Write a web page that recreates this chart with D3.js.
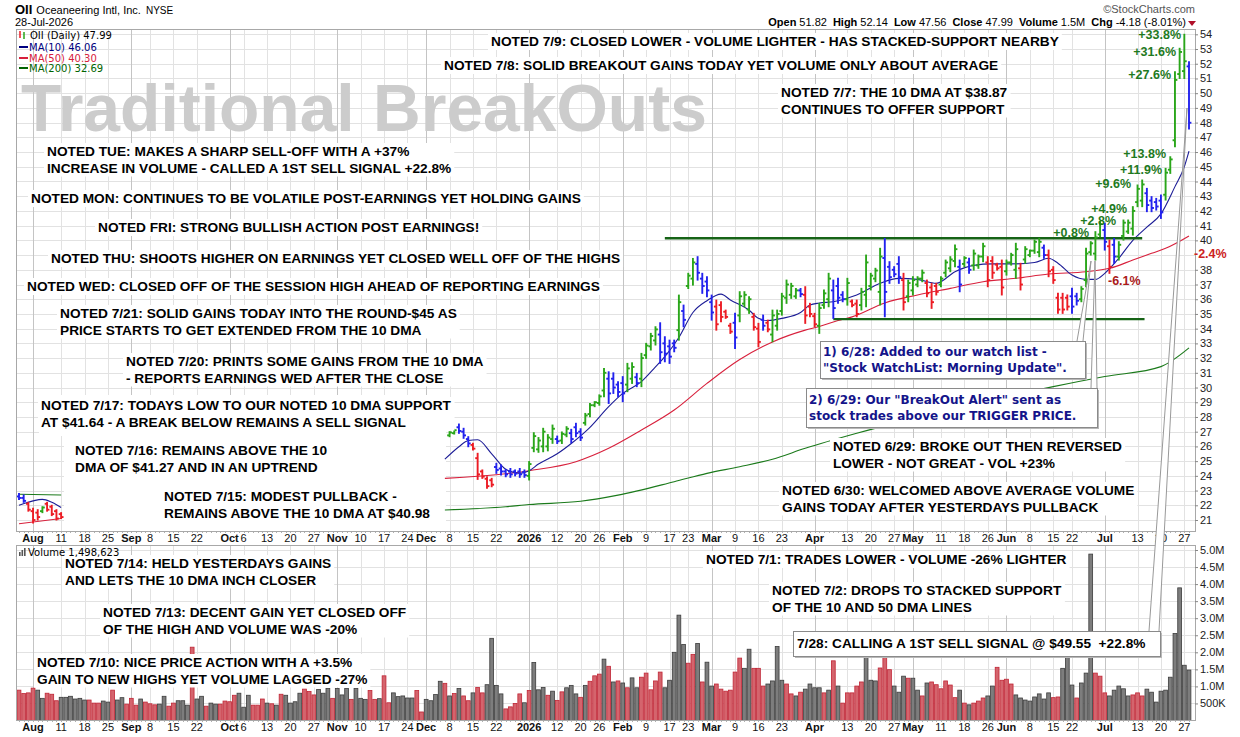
<!DOCTYPE html>
<html>
<head>
<meta charset="utf-8">
<script src="https://cdn.jsdelivr.net/npm/d3@7"></script>
<style>
  body { margin: 0; background: #fff; }
  svg { display: block; font-family: "Liberation Sans", Arial, sans-serif; }
</style>
</head>
<body>
<svg id="chart" width="1240" height="737"></svg>
<script>
// ---- calendar ----
var firstDay = "2025-07-29", lastDay = "2026-07-28";
var holidays = ["2025-09-01", "2025-11-27", "2025-12-25", "2026-01-01", "2026-01-19",
                "2026-02-16", "2026-04-03", "2026-05-25", "2026-06-19", "2026-07-03"];

var tickDates = ["2025-08-01", "2025-08-11", "2025-08-18", "2025-08-25", "2025-09-02", "2025-09-08", "2025-09-15", "2025-09-22",
  "2025-10-01", "2025-10-06", "2025-10-13", "2025-10-20", "2025-10-27", "2025-11-03", "2025-11-10", "2025-11-17", "2025-11-24",
  "2025-12-01", "2025-12-08", "2025-12-15", "2025-12-22", "2026-01-02", "2026-01-12", "2026-01-20", "2026-01-26",
  "2026-02-02", "2026-02-09", "2026-02-17", "2026-02-23", "2026-03-02", "2026-03-09", "2026-03-16", "2026-03-23",
  "2026-04-01", "2026-04-13", "2026-04-20", "2026-04-27", "2026-05-01", "2026-05-11", "2026-05-18", "2026-05-26",
  "2026-06-01", "2026-06-08", "2026-06-15", "2026-06-22", "2026-07-01", "2026-07-13", "2026-07-20", "2026-07-27"];
var tickLabels = ["Aug", "11", "18", "25", "Sep", "8", "15", "22", "Oct", "6", "13", "20", "27", "Nov", "10", "17", "24",
  "Dec", "8", "15", "22", "2026", "12", "20", "26", "Feb", "9", "17", "23", "Mar", "9", "16", "23",
  "Apr", "13", "20", "27", "May", "11", "18", "26", "Jun", "8", "15", "22", "Jul", "13", "20", "27"];
// price labels on the right axis (39 sits under the -2.4% note)
var priceTicks = [21,22,23,24,25,26,27,28,29,30,31,32,33,34,35,36,37,38,40,41,42,43,44,45,46,47,48,49,50,51,52,53,54];
var volumeTicks = [0.5,1,1.5,2,2.5,3,3.5,4,4.5,5];

// ---- price bars (open, high, low, close); tone G=up, R=down, B=blue ----
var leftStart = "2025-07-29";
var leftBars = [[22.6,22.8,22.4,22.5],[22.5,22.7,22.2,22.3],[22.1,22.2,21.6,21.7],[21.6,21.8,20.8,21.0],[21.5,21.7,21.0,21.2],
  [21.6,21.9,21.5,21.85],[22.1,22.2,21.6,21.7],[21.9,22.0,21.3,21.4],[21.6,21.7,21.0,21.1],[21.4,21.5,21.1,21.2]];
var leftTone = "BBRRRGRRRR";

var mainStart = "2025-12-08";
var mainBars = [
  [26.75,27.0,26.66,26.95],[26.9,27.16,26.84,27.1],[27.3,27.52,26.89,27.05],[27.0,27.23,26.55,26.75],[26.5,26.66,25.98,26.2],
  [26.1,26.21,25.76,25.85],[25.2,25.53,23.76,24.1],[24.3,24.4,23.83,23.95],[23.8,23.94,23.15,23.3],[23.7,23.83,23.26,23.4],
  [24.6,24.85,24.17,24.4],[24.5,24.74,24.06,24.3],[24.3,24.44,23.94,24.1],[24.3,24.5,23.9,24.1],[24.3,24.4,24.0,24.15],
  [24.3,24.5,23.9,24.1],[24.25,24.4,23.9,24.05],[24.0,24.97,23.72,24.8],[25.9,26.93,25.64,26.7],[25.8,26.6,25.6,26.4],
  [26.0,27.23,25.64,27.0],[26.0,26.8,25.7,26.6],[26.5,27.45,26.21,27.2],[26.5,26.7,26.2,26.35],[26.4,26.98,26.2,26.85],
  [26.8,27.34,26.66,27.2],[26.9,27.16,26.25,26.5],[27.3,27.57,26.66,26.9],[27.0,27.2,26.4,26.6],[27.6,28.24,27.45,28.1],
  [28.2,28.92,28.02,28.8],[28.8,29.04,28.7,29.0],[28.95,29.5,28.8,29.4],[29.8,31.3,29.38,31.0],[30.6,31.07,28.92,29.6],
  [30.6,31.0,29.6,30.0],[30.2,30.4,29.38,29.7],[30.3,30.74,29.04,29.6],[30.2,31.64,29.72,31.3],[30.6,31.68,30.28,31.4],
  [30.7,30.96,30.06,30.3],[30.6,32.32,30.06,32.0],[32.2,33.0,31.98,32.85],[32.8,33.68,32.55,33.5],[33.2,34.13,32.89,33.95],
  [33.6,34.4,31.64,32.4],[33.0,33.45,31.75,32.3],[32.8,33.22,31.64,32.1],[33.0,33.22,32.43,32.7],[33.9,36.28,33.22,35.8],
  [35.2,35.6,34.13,34.6],[36.9,37.76,36.73,37.6],[37.4,38.77,36.96,38.5],[38.4,38.89,37.3,37.8],[37.4,37.76,36.4,36.9],
  [37.2,37.53,36.17,36.6],[35.8,36.28,34.58,35.1],[35.5,35.94,33.9,34.3],[35.6,35.83,34.47,34.8],[35.15,35.26,34.7,34.8],
  [34.2,34.36,33.68,33.8],[34.4,35.04,32.66,33.4],[34.9,36.51,34.47,36.2],[35.7,36.51,35.49,36.3],[35.3,36.17,35.04,36.0],
  [34.8,35.04,33.9,34.1],[34.0,34.36,32.77,33.1],[34.6,34.92,33.9,34.2],[34.4,34.58,33.79,33.95],[33.6,35.26,33.11,34.9],
  [34.2,35.26,33.9,35.0],[35.2,36.4,34.92,36.2],[36.1,37.3,35.72,37.0],[36.3,37.08,36.06,36.9],[36.2,36.73,36.06,36.6],
  [36.6,36.73,36.17,36.35],[36.3,36.85,34.36,34.9],[35.5,35.72,34.81,35.0],[34.85,35.04,34.13,34.3],[34.2,35.72,33.68,35.4],
  [35.6,36.62,35.38,36.4],[36.0,37.76,35.49,37.4],[36.6,37.3,34.7,35.4],[36.9,37.42,35.72,36.1],[36.3,36.51,35.83,36.0],
  [36.0,37.42,35.6,37.1],[35.85,35.94,35.49,35.6],[35.7,35.94,34.81,35.0],[35.6,36.74,35.27,36.5],[36.3,39.0,35.49,38.5],
  [36.9,37.76,36.63,37.6],[37.4,38.1,37.19,37.95],[36.5,39.46,35.61,38.9],[38.8,40.13,34.81,36.5],[38.2,38.55,37.08,37.5],
  [38.0,38.21,37.53,37.7],[38.4,38.89,37.08,37.5],[37.3,37.76,35.27,35.8],[36.2,37.3,35.83,37.1],[36.6,37.53,36.29,37.3],
  [37.0,37.53,36.85,37.4],[37.4,37.98,37.19,37.8],[37.1,37.3,36.17,36.4],[36.8,37.08,35.38,35.8],[36.9,37.08,36.29,36.5],
  [37.0,37.53,36.85,37.4],[37.8,38.66,37.53,38.5],[38.1,38.89,37.87,38.7],[38.6,39.68,38.21,39.4],[38.2,38.66,36.51,37.0],
  [38.4,38.89,38.21,38.8],[38.5,38.78,37.76,38.0],[38.3,39.34,37.98,39.1],[38.3,39.0,38.1,38.9],[38.9,39.8,38.55,39.6],
  [38.5,38.89,36.85,37.3],[38.6,38.89,37.42,37.8],[38.35,38.44,37.98,38.1],[38.2,38.66,36.29,36.8],[37.9,38.66,37.64,38.5],
  [38.5,39.12,38.32,39.0],[38.0,39.8,37.42,39.4],[38.1,38.44,36.63,37.0],[38.7,39.57,38.44,39.4],[39.0,39.34,38.89,39.3],
  [39.3,40.02,39.12,39.9],[39.2,40.13,38.89,39.9],[39.5,39.68,38.78,39.0],[39.0,39.34,37.53,37.9],[38.0,38.21,37.08,37.3],
  [36.1,36.4,35.04,35.3],[36.1,36.4,35.04,35.3],[36.1,36.29,35.27,35.5],[36.2,36.74,35.04,35.5],[36.2,36.4,35.61,35.9],
  [36.0,36.85,35.83,36.7],[37.3,39.46,36.85,39.1],[39.2,39.91,39.0,39.8],[39.1,40.59,38.66,40.2],[40.4,41.27,40.25,41.1],
  [40.7,41.15,39.34,39.9],[39.6,40.02,37.76,38.2],[39.7,40.13,38.44,38.9],[38.9,39.91,38.66,39.7],[40.3,41.38,40.02,41.2],
  [40.6,41.38,40.47,41.2],[40.8,42.29,40.36,42.0],[42.6,43.76,42.29,43.5],[42.7,44.1,42.29,43.8],[43.2,43.53,41.95,42.4],
  [42.7,42.97,41.95,42.2],[42.6,42.85,42.06,42.3],[42.7,43.08,41.49,41.9],[43.1,44.89,42.74,44.6],[44.8,45.68,44.55,45.5],
  [46.8,51.45,46.36,50.9],[51.3,53.05,51.0,52.8],[51.5,54.0,51.0,52.17],[51.82,52.14,47.56,47.99]];
var mainTone = "GGBBBRRRRR" + "BBBBBBBGGG" + "GGGBGGBBBG" + "GGGGBBBBGG" + "BGGGGBBBBG" + "BGGBBBBRRR" +
  "RBGGGRRBRG" + "GGGGGBRRRG" + "GGBBBGRRGG" + "GGGBBBBRGG" + "GGRRRGGGGB" + "GBGGGRRRRG" + "GGRGGGGBRR" +
  "RRRBBGGGGG" + "BRBGGGGGGB" + "BBBGGGGGB";

// ---- moving averages: [trading day no., value] ----
var ma10Left = [[0,22.0],[3,22.3],[5,22.4],[7,22.2],[9,21.85]];
var ma10 = [[91,25.13],[94,25.98],[96,26.4],[98,26.45],[101,25.5],[104,24.45],[107,24.17],[109,24.35],[111,24.8],[115,25.5],
  [118,26.2],[122,27.3],[126,28.7],[129,29.6],[133,30.4],[136,31.4],[138,32.1],[141,33.4],[144,35.1],[147,35.9],[150,36.35],
  [152,35.95],[156,35.25],[158,34.7],[160,34.55],[163,34.7],[167,35.1],[169,35.6],[171,35.74],[174,35.83],[179,36.28],
  [184,37.08],[188,37.42],[192,37.35],[196,37.08],[200,37.87],[204,38.3],[208,38.4],[212,38.4],[217,38.5],[220,38.78],
  [222,38.45],[225,37.64],[228,37.35],[230,37.35],[232,37.76],[235,38.78],[238,40.0],[241,40.9],[244,41.8],[247,43.65],
  [249,45.0],[250,46.06]];
var ma50Left = [[0,20.75],[9,21.1]];
var ma50 = [[91,23.83],[109,24.35],[119,24.96],[126,25.87],[133,27.11],[140,28.47],[147,30.28],[154,31.9],[161,33.1],
  [168,33.9],[171,34.15],[175,34.55],[178,34.8],[185,35.75],[192,36.29],[199,36.74],[206,37.19],[213,37.42],[220,37.71],
  [228,37.87],[233,38.1],[238,38.66],[242,39.12],[245,39.46],[250,40.3]];
var ma200Left = [[0,22.75],[9,22.7]];
var ma200 = [[91,21.68],[104,21.9],[109,22.05],[120,22.27],[128,22.69],[140,23.6],[147,24.17],[154,24.62],[161,25.13],
  [168,25.87],[179,26.89],[199,28.5],[221,30.06],[232,30.75],[244,31.42],[250,32.69]];

// trend lines: level, from day, to day
var channelLines = [[40.14, 138, 240], [34.65, 174, 240.5]];

// ---- volume (millions), one per trading day; tone r=down g=up ----
var volume = [
  .89,.79,.81,.95,.89,.65,.80,.77,.58,.68, .68,.71,.63,.65,.60,.60,.51,.51,.57,.54,
  .89,.60,.67,.48,.65,.45,.63,.54,.49,.46, .48,.71,.42,.51,.58,.58,.45,2.15,.63,.71,
  .42,.51,.48,.48,.57,.55,.74,.80,.39,.74, .45,.45,.63,.51,.49,.45,.77,.74,.51,.55,
  .80,.92,.85,.75,.91,.80,.94,.65,.94,.75, .94,.62,.94,.65,.62,.88,.62,.64,1.31,.52,
  .81,.70,.72,.66,.66,.88,.25,.62,.58,.76, 1.15,1.09,.72,.79,.94,.72,.58,.81,.97,.81,
  1.05,2.41,1.03,.78,.34,.40,.50,.78,.52,.88, 1.70,.90,.97,.74,.86,.59,.84,.96,1.03,.78,
  .68,1.03,1.15,1.31,1.36,1.80,1.59,1.13,1.16,1.10, .96,1.25,.96,1.27,1.39,.90,1.16,1.42,.96,1.18,
  2.00,3.09,2.23,1.68,1.94,2.26,1.13,1.71,1.01,1.07, .92,.86,.89,1.42,1.83,1.53,2.09,1.53,1.53,1.01,
  1.07,1.16,2.17,1.18,1.07,.78,.72,.83,.92,1.07, .96,.96,.81,.89,1.75,1.01,.51,.81,.81,1.01,
  1.13,2.55,1.18,1.16,1.54,1.87,1.49,1.01,.83,1.30, 1.24,1.24,.89,.72,1.10,1.13,1.05,.93,1.16,1.04,
  .67,.89,.51,.46,.51,.57,.66,.72,1.01,1.56, 1.18,1.21,1.07,.75,.66,.60,.57,.69,.78,.63,
  .81,.67,.69,1.53,1.95,1.04,.66,1.10,1.39,4.88, 1.39,1.30,.81,.72,.89,1.01,.93,.72,.75,.81,
  .72,.92,.83,.54,.86,.89,1.27,2.55,3.89,1.62, 1.48];
var volumeTone = "rrrrggrrrg" + "gggggrrrgg" + "rggrrrgrrr" + "ggrrgggrgg" + "rggrrrrggg" + "rrrgrgrggg" +
  "grrrgggrgg" + "grgggrrgrr" + "gggggrrggg" + "grgrgrrgrr" + "ggggrrrrgr" + "gggrgrrggg" +
  "rgrrrgrgrg" + "rggrrrrrgg" + "gggrrgrggr" + "rrrrrggrrr" + "ggggrrgrgg" +
  "ggrgrgrrrr" + "rgggrrrggg" + "rggrgrrrrr" + "rgrgrrrggr" + "rrrggggggg" +
  "grrgggrggg" + "rrrgggggrr" + "r";

// ---- annotations (layout) ----
var notes = [
  {x: 491, y: 46, t: ["NOTED 7/9: CLOSED LOWER - VOLUME LIGHTER - HAS STACKED-SUPPORT NEARBY"]},
  {x: 444, y: 70, t: ["NOTED 7/8: SOLID BREAKOUT GAINS TODAY YET VOLUME ONLY ABOUT AVERAGE"]},
  {x: 781, y: 97, t: ["NOTED 7/7: THE 10 DMA AT $38.87", "CONTINUES TO OFFER SUPPORT"]},
  {x: 47, y: 156, t: ["NOTED TUE: MAKES A SHARP SELL-OFF WITH A +37%", "INCREASE IN VOLUME - CALLED A 1ST SELL SIGNAL +22.8%"]},
  {x: 31, y: 203, t: ["NOTED MON: CONTINUES TO BE VOLATILE POST-EARNINGS YET HOLDING GAINS"]},
  {x: 98, y: 232, t: ["NOTED FRI: STRONG BULLISH ACTION POST EARNINGS!"]},
  {x: 51, y: 263, t: ["NOTED THU: SHOOTS HIGHER ON EARNINGS YET CLOSED WELL OFF OF THE HIGHS"]},
  {x: 27, y: 291, t: ["NOTED WED: CLOSED OFF OF THE SESSION HIGH AHEAD OF REPORTING EARNINGS"]},
  {x: 60, y: 318, t: ["NOTED 7/21: SOLID GAINS TODAY INTO THE ROUND-$45 AS", "PRICE STARTS TO GET EXTENDED FROM THE 10 DMA"]},
  {x: 126, y: 366, t: ["NOTED 7/20: PRINTS SOME GAINS FROM THE 10 DMA", "- REPORTS EARNINGS WED AFTER THE CLOSE"]},
  {x: 41, y: 410, t: ["NOTED 7/17: TODAYS LOW TO OUR NOTED 10 DMA SUPPORT", "AT $41.64 - A BREAK BELOW REMAINS A SELL SIGNAL"]},
  {x: 75, y: 455, t: ["NOTED 7/16: REMAINS ABOVE THE 10", "DMA OF $41.27 AND IN AN UPTREND"]},
  {x: 164, y: 501, t: ["NOTED 7/15: MODEST PULLBACK -", "REMAINS ABOVE THE 10 DMA AT $40.98"]},
  {x: 833, y: 451, t: ["NOTED 6/29: BROKE OUT THEN REVERSED", "LOWER - NOT GREAT - VOL +23%"]},
  {x: 782, y: 495, t: ["NOTED 6/30: WELCOMED ABOVE AVERAGE VOLUME", "GAINS TODAY AFTER YESTERDAYS PULLBACK"]},
  {x: 706, y: 564, t: ["NOTED 7/1: TRADES LOWER - VOLUME -26% LIGHTER"]},
  {x: 772, y: 595, t: ["NOTED 7/2: DROPS TO STACKED SUPPORT", "OF THE 10 AND 50 DMA LINES"]},
  {x: 65, y: 568, t: ["NOTED 7/14: HELD YESTERDAYS GAINS", "AND LETS THE 10 DMA INCH CLOSER"]},
  {x: 103, y: 617, t: ["NOTED 7/13: DECENT GAIN YET CLOSED OFF", "OF THE HIGH AND VOLUME WAS -20%"]},
  {x: 37, y: 667, t: ["NOTED 7/10: NICE PRICE ACTION WITH A +3.5%", "GAIN TO NEW HIGHS YET VOLUME LAGGED -27%"]}
];
var pctLabels = [
  {t: "+33.8%", x: 1181, y: 39, a: "end", c: "#1e7a1e"},
  {t: "+31.6%", x: 1176, y: 56, a: "end", c: "#1e7a1e"},
  {t: "+27.6%", x: 1171, y: 79, a: "end", c: "#1e7a1e"},
  {t: "+13.8%", x: 1166, y: 158, a: "end", c: "#1e7a1e"},
  {t: "+11.9%", x: 1162, y: 174, a: "end", c: "#1e7a1e"},
  {t: "+9.6%", x: 1131, y: 188, a: "end", c: "#1e7a1e"},
  {t: "+4.9%", x: 1127, y: 213, a: "end", c: "#1e7a1e"},
  {t: "+2.8%", x: 1116, y: 225, a: "end", c: "#1e7a1e"},
  {t: "+0.8%", x: 1089, y: 237, a: "end", c: "#1e7a1e"},
  {t: "-6.1%", x: 1108, y: 285, a: "start", c: "#aa1a1a"},
  {t: "-2.4%", x: 1194, y: 258, a: "start", c: "#cc2222"}
];
var callouts = [
  {r: [820, 341, 265, 37], t: ["1) 6/28: Added to our watch list -", "\"Stock WatchList: Morning Update\"."],
   tx: 823, ty: 355.5, lh: 16, c: "#14148a", f: "'DejaVu Sans', Verdana, sans-serif", s: 12, w: [[1077, 341], [1091, 261], [1083, 341]]},
  {r: [806, 388, 291, 39], t: ["2) 6/29: Our \"BreakOut Alert\" sent as", "stock trades above our TRIGGER PRICE."],
   tx: 809, ty: 404, lh: 16, c: "#14148a", f: "'DejaVu Sans', Verdana, sans-serif", s: 12, w: [[1091, 388], [1095, 261], [1097, 388]]},
  {r: [793, 631, 367, 25], t: ["7/28: CALLING A 1ST SELL SIGNAL @ $49.55\u00a0 +22.8%"],
   tx: 797, ty: 648, lh: 16, c: "#000", f: "'Liberation Sans', Arial, sans-serif", s: 13.7, w: [[1149, 631], [1187, 108], [1159, 631]]}
];

// ---- setup ----
var parse = d3.timeParse("%Y-%m-%d"), fmt = d3.timeFormat("%Y-%m-%d");
var days = d3.timeDay.range(parse(firstDay), d3.timeDay.offset(parse(lastDay), 1))
  .filter(function (d) { var w = d.getDay(); return w > 0 && w < 6 && holidays.indexOf(fmt(d)) < 0; });
var dayNo = {};
days.forEach(function (d, i) { dayNo[fmt(d)] = i; });

var P = {left: 16, right: 1195, top: 29, bottom: 531};
var V = {left: 16, right: 1195, top: 545, bottom: 720};

var x = d3.scaleLinear().domain([0, days.length - 1]).range([19, 1189]);
var y = d3.scaleLinear().domain([21, 54]).range([520, 34.3]);
var yv = d3.scaleLinear().domain([0, 5]).range([720.5, 550]);

var toneColor = {G: "#2aa61a", R: "#ec1c24", B: "#2222ee"};
var ticks = tickDates.map(function (d, i) {
  var lab = tickLabels[i];
  return {i: dayNo[d], label: lab, month: isNaN(+lab) || lab === "2026"};
});

var svg = d3.select("#chart");
svg.append("rect").attr("width", 1240).attr("height", 737).attr("fill", "#fff");

function px(v) { return Math.round(v) + 0.5; }

function drawGrid(p, yScale, yVals) {
  var g = svg.append("g");
  g.selectAll("line.h").data(yVals).enter().append("line")
    .attr("x1", p.left).attr("x2", p.right)
    .attr("y1", function (d) { return px(yScale(d)); }).attr("y2", function (d) { return px(yScale(d)); })
    .attr("stroke", "#e2e2e2");
  g.selectAll("line.v").data(ticks).enter().append("line")
    .attr("x1", function (d) { return px(x(d.i)); }).attr("x2", function (d) { return px(x(d.i)); })
    .attr("y1", p.top).attr("y2", p.bottom)
    .attr("stroke", function (d) { return d.month ? "#c4c4c4" : "#e2e2e2"; });
  // daily minor ticks along bottom
  g.selectAll("line.m").data(days).enter().append("line")
    .attr("x1", function (d, i) { return px(x(i)); }).attr("x2", function (d, i) { return px(x(i)); })
    .attr("y1", p.bottom).attr("y2", p.bottom + 2).attr("stroke", "#b0b0b0");
  g.selectAll("text").data(ticks).enter().append("text")
    .attr("x", function (d) { return x(d.i); }).attr("y", p.bottom + 11)
    .attr("text-anchor", "middle").attr("font-size", 11)
    .attr("font-weight", function (d) { return d.month ? "bold" : "normal"; })
    .attr("fill", "#111").text(function (d) { return d.label; });
}

drawGrid(P, y, d3.range(21, 55));
drawGrid(V, yv, volumeTicks);

// watermark
svg.append("text").attr("x", 21).attr("y", 131).attr("font-size", 66).attr("font-weight", "bold")
  .attr("fill", "#cccccc").text("Traditional BreakOuts");

// masks (white areas covering the older part of the price panel)
svg.append("rect").attr("x", 39).attr("y", 395).attr("width", 407).attr("height", 41).attr("fill", "#fff");
svg.append("rect").attr("x", 64).attr("y", 436).attr("width", 382).attr("height", 95).attr("fill", "#fff");

// volume bars
svg.append("g").selectAll("rect").data(volume).enter().append("rect")
  .attr("x", function (d, i) { return x(i) - 1.9; }).attr("width", 3.8)
  .attr("y", function (d) { return yv(d); }).attr("height", function (d) { return yv(0) - yv(d); })
  .attr("fill", function (d, i) { return volumeTone[i] === "r" ? "#d4646d" : "#7d7d7d"; })
  .attr("stroke", function (d, i) { return volumeTone[i] === "r" ? "#c02535" : "#3c3c3c"; })
  .attr("stroke-width", 0.8);

// moving averages
var maLine = d3.line().x(function (d) { return x(d[0]); }).y(function (d) { return y(d[1]); }).curve(d3.curveMonotoneX);
[[ma200Left, "#1b7a1b"], [ma200, "#1b7a1b"], [ma50Left, "#d8203c"], [ma50, "#d8203c"],
 [ma10Left, "#1c1c96"], [ma10, "#1c1c96"]].forEach(function (m) {
  svg.append("path").attr("d", maLine(m[0])).attr("fill", "none").attr("stroke", m[1]).attr("stroke-width", 1.1);
});

// channel lines
svg.append("g").selectAll("line").data(channelLines).enter().append("line")
  .attr("x1", function (d) { return x(d[1]); }).attr("x2", function (d) { return x(d[2]); })
  .attr("y1", function (d) { return y(d[0]); }).attr("y2", function (d) { return y(d[0]); })
  .attr("stroke", "#166316").attr("stroke-width", 2.4);

// OHLC bars
function drawBars(bars, tone, start) {
  var s = dayNo[start];
  var g = svg.append("g").attr("stroke-width", 1.9);
  var sel = g.selectAll("g").data(bars).enter().append("g")
    .attr("stroke", function (d, i) { return toneColor[tone[i]]; });
  sel.append("line").attr("x1", function (d, i) { return x(s + i); }).attr("x2", function (d, i) { return x(s + i); })
    .attr("y1", function (d) { return y(d[1]) - 0.5; }).attr("y2", function (d) { return y(d[2]) + 0.5; });
  sel.append("line").attr("x1", function (d, i) { return x(s + i) - 2.4; }).attr("x2", function (d, i) { return x(s + i); })
    .attr("y1", function (d) { return y(d[0]); }).attr("y2", function (d) { return y(d[0]); });
  sel.append("line").attr("x1", function (d, i) { return x(s + i); }).attr("x2", function (d, i) { return x(s + i) + 2.4; })
    .attr("y1", function (d) { return y(d[3]); }).attr("y2", function (d) { return y(d[3]); });
}
drawBars(leftBars, leftTone, leftStart);
drawBars(mainBars, mainTone, mainStart);

// panel borders
[P, V].forEach(function (p) {
  svg.append("rect").attr("x", p.left + 0.5).attr("y", p.top + 0.5)
    .attr("width", p.right - p.left).attr("height", p.bottom - p.top)
    .attr("fill", "none").attr("stroke", "#a8a8a8");
});

// right axes
var ax1 = svg.append("g").attr("transform", "translate(" + P.right + ",0)")
  .call(d3.axisRight(y).tickValues(priceTicks).tickSize(3).tickPadding(2));
var ax2 = svg.append("g").attr("transform", "translate(" + V.right + ",0)")
  .call(d3.axisRight(yv).tickValues(volumeTicks).tickSize(3).tickPadding(2)
    .tickFormat(function (v) { return v < 1 ? "500K" : v.toFixed(1) + "M"; }));
[ax1, ax2].forEach(function (a) {
  a.select(".domain").remove();
  a.selectAll("line").attr("stroke", "#888");
  a.selectAll("text").attr("font-family", "'Liberation Sans', Arial, sans-serif").attr("font-size", 11).attr("fill", "#222");
});

// notes
var lh = 16.5;
notes.forEach(function (n) {
  var g = svg.append("g");
  var t = g.append("text").attr("font-size", 13.7).attr("font-weight", "bold").attr("fill", "#000");
  n.t.forEach(function (line, j) {
    t.append("tspan").attr("x", n.x).attr("y", n.y + j * lh).text(line);
  });
  var b = t.node().getBBox();
  g.insert("rect", "text").attr("x", b.x - 3).attr("y", b.y - 1).attr("width", b.width + 6).attr("height", b.height + 2)
    .attr("fill", "#fff");
});

// percent labels
svg.append("g").selectAll("text").data(pctLabels).enter().append("text")
  .attr("x", function (d) { return d.x; }).attr("y", function (d) { return d.y; })
  .attr("text-anchor", function (d) { return d.a; }).attr("fill", function (d) { return d.c; })
  .attr("font-size", 12.5).attr("font-weight", "bold").text(function (d) { return d.t; });

// callout boxes
callouts.forEach(function (c) {
  var g = svg.append("g");
  g.append("rect").attr("x", c.r[0] + 2).attr("y", c.r[1] + 2).attr("width", c.r[2]).attr("height", c.r[3]).attr("fill", "#b8b8b8");
  g.append("rect").attr("x", c.r[0] + 0.5).attr("y", c.r[1] + 0.5).attr("width", c.r[2]).attr("height", c.r[3])
    .attr("fill", "#fff").attr("stroke", "#8a8a8a");
  g.append("path").attr("d", "M" + c.w.join("L")).attr("fill", "#fff").attr("stroke", "#999").attr("stroke-width", 1);
  var t = g.append("text").attr("font-family", c.f).attr("font-size", c.s).attr("font-weight", "bold").attr("fill", c.c);
  c.t.forEach(function (line, j) {
    t.append("tspan").attr("x", c.tx).attr("y", c.ty + j * c.lh).text(line);
  });
});

// legends
var lg = svg.append("g").attr("font-family", "'DejaVu Sans', Verdana, sans-serif").attr("font-size", 10);
lg.append("line").attr("x1", 20).attr("x2", 20).attr("y1", 31).attr("y2", 38).attr("stroke", "#ec1c24").attr("stroke-width", 1.5);
lg.append("line").attr("x1", 24).attr("x2", 24).attr("y1", 32).attr("y2", 39).attr("stroke", "#2aa61a").attr("stroke-width", 1.5);
lg.append("text").attr("x", 30).attr("y", 39).attr("fill", "#000").text("OII (Daily) 47.99");
[["MA(10) 46.06", "#000080", 51], ["MA(50) 40.30", "#d8203c", 62], ["MA(200) 32.69", "#006400", 72]].forEach(function (m) {
  lg.append("line").attr("x1", 19).attr("x2", 28).attr("y1", m[2] - 4).attr("y2", m[2] - 4).attr("stroke", m[1]).attr("stroke-width", 2);
  lg.append("text").attr("x", 29).attr("y", m[2]).attr("fill", m[1]).text(m[0]);
});
[[19, 4], [21.5, 6], [24, 8]].forEach(function (b) {
  lg.append("rect").attr("x", b[0]).attr("y", 556 - b[1]).attr("width", 1.6).attr("height", b[1]).attr("fill", "#555");
});
lg.append("text").attr("x", 28).attr("y", 556).attr("fill", "#000").text("Volume 1,498,623");

// header
var hd = svg.append("g").attr("font-family", "'Liberation Sans', Arial, sans-serif");
var h1 = hd.append("text").attr("x", 15).attr("y", 14).attr("fill", "#000");
h1.append("tspan").attr("font-size", 13).attr("font-weight", "bold").text("OII");
h1.append("tspan").attr("font-size", 11).attr("dx", 4).text("Oceaneering Intl, Inc.");
h1.append("tspan").attr("font-size", 10).attr("dx", 5).text("NYSE");
hd.append("text").attr("x", 15).attr("y", 26).attr("font-size", 11).attr("fill", "#000").text("28-Jul-2026");
hd.append("text").attr("x", 1195).attr("y", 12.5).attr("text-anchor", "end").attr("font-size", 11).attr("fill", "#555")
  .text("\u00a9StockCharts.com");
var quote = [["Open", "51.82"], ["High", "52.14"], ["Low", "47.56"], ["Close", "47.99"], ["Volume", "1.5M"], ["Chg", "-4.18 (-8.01%)"]];
var h2 = hd.append("text").attr("x", 1186).attr("y", 25.5).attr("text-anchor", "end").attr("font-size", 11).attr("fill", "#000");
quote.forEach(function (q, i) {
  h2.append("tspan").attr("font-weight", "bold").attr("dx", i ? 6 : 0).text(q[0]);
  h2.append("tspan").attr("dx", 3).text(q[1]);
});
hd.append("path").attr("d", "M1188,21 L1196,21 L1192,26 Z").attr("fill", "#b0102a");
</script>
</body>
</html>
